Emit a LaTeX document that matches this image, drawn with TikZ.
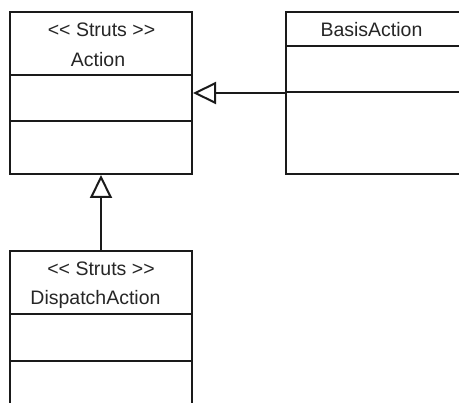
\documentclass[tikz,border=0pt]{standalone}
\usepackage{fontspec}
\newfontfamily\umlfont{Liberation Sans}
\usetikzlibrary{arrows.meta}
\definecolor{umlline}{HTML}{1A1A1A}
\definecolor{umltext}{HTML}{262626}
\tikzstyle{classbox}=[rectangle,draw=umlline,line width=2pt,minimum width=182pt,inner sep=0pt]
\tikzstyle{classtext}=[anchor=base,inner sep=0pt,text=umltext,font=\umlfont\fontsize{19.5}{22}\selectfont]
\tikzstyle{compartment}=[draw=umlline,line width=2pt]
\tikzstyle{inherit}=[draw=umlline,line width=2pt,-{Triangle[open,length=23pt,width=22pt]}]

\begin{document}
\begin{tikzpicture}[x=1pt,y=-1pt]

    % page frame, the boxes run off the right and lower edges
    \fill[white] (0,0) rectangle (459,403);
    \clip (0,0) rectangle (459,403);

    % First the class boxes
    \node[classbox, minimum height=162pt] (action) at (101,93) {};
    \node[classbox, minimum width=240pt, minimum height=162pt] (basis) at (406,93) {};
    \node[classbox, minimum height=180pt] (dispatch) at (101,341) {};

    % compartment lines
    \foreach \name/\off in {action/64, action/110, basis/35, basis/81, dispatch/64, dispatch/111}
        \path[compartment] ([yshift=-\off pt]\name.north west) -- ([yshift=-\off pt]\name.north east);

    % names and stereotypes
    \node[classtext] (actionster) at (101.5,36.7) {<< Struts >>};
    \node[classtext] (actionname) at (98,66.7) {Action};
    \node[classtext] (basisname) at (371.5,36.7) {BasisAction};
    \node[classtext] (dispatchster) at (101,276) {<< Struts >>};
    \node[classtext] (dispatchname) at (95.5,305) {DispatchAction};

    % generalisation arrows
    \path[inherit] (basis) -- (action);
    \path[inherit] (dispatch) -- (action);

\end{tikzpicture}
\end{document}
